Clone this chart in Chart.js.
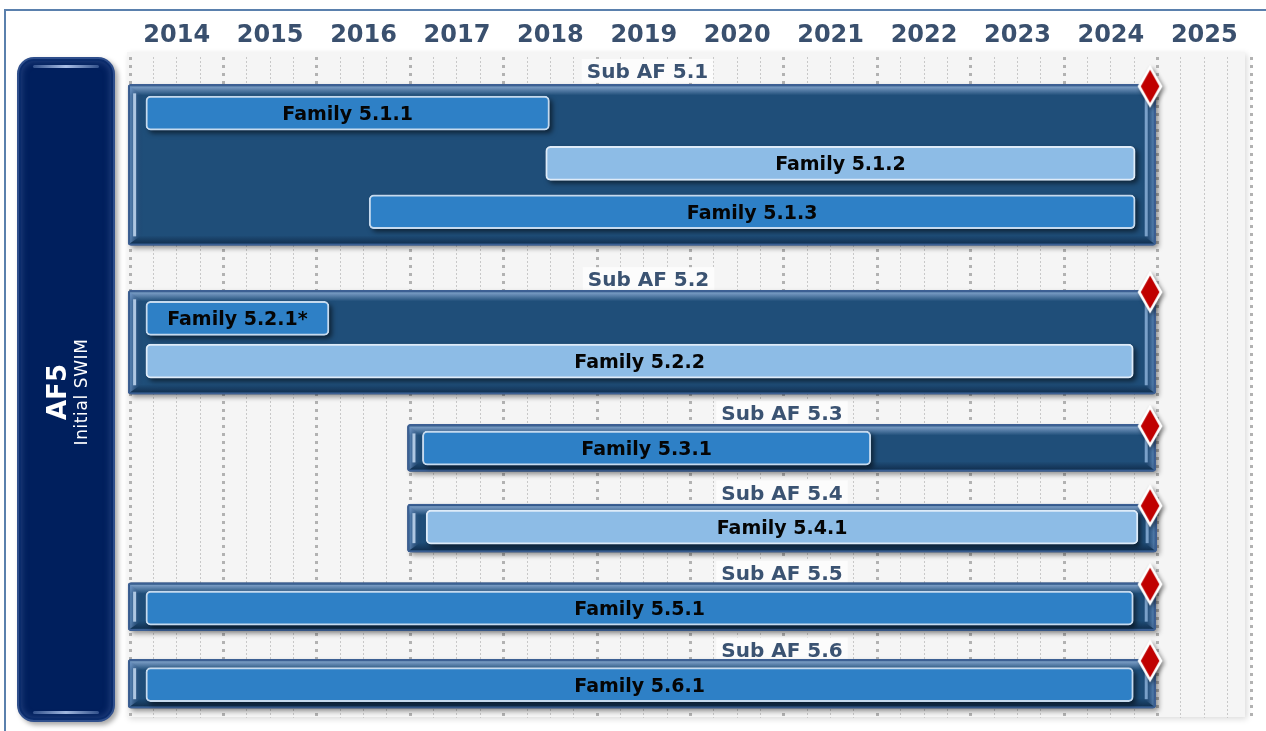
<!DOCTYPE html>
<html>
<head>
<meta charset="utf-8">
<script src="https://cdn.jsdelivr.net/npm/chart.js@4.4.1/dist/chart.umd.min.js"></script>
<style>
  html, body { margin: 0; padding: 0; background: #ffffff; overflow: hidden; }
  #wrap { position: relative; width: 1266px; height: 731px; overflow: hidden; }
  #frame { position: absolute; left: 4px; top: 9px; width: 1400px; height: 900px; border: 2px solid #5a80ad; box-sizing: border-box; }
  #chart { position: absolute; left: 0; top: 0; }
  #af5 { position: absolute; left: 17px; top: 57px; width: 98px; height: 665px; box-sizing: border-box;
         border-radius: 17px; background: #001f5d; border: 2px solid #2f4f8c;
         box-shadow: 3px 3px 5px rgba(0,0,0,0.35), inset 0 0 0 2px #0b2c6c, inset 0 0 6px 3px rgba(60,90,150,0.55); z-index: 2; }
  #af5::before { content: ""; position: absolute; left: 14px; right: 14px; top: 6px; height: 3px; border-radius: 2px;
         background: linear-gradient(to right, rgba(160,190,240,0.3), rgba(200,220,255,0.85), rgba(160,190,240,0.3)); }
  #af5::after { content: ""; position: absolute; left: 14px; right: 14px; bottom: 6px; height: 3px; border-radius: 2px;
         background: linear-gradient(to right, rgba(160,190,240,0.3), rgba(200,220,255,0.8), rgba(160,190,240,0.3)); }
  #af5txt { position: absolute; left: 49px; top: 333px; width: 240px; height: 48px; margin-left: -120px; margin-top: -24px;
         transform: rotate(-90deg); color: #ffffff; text-align: center; font-family: "DejaVu Sans", sans-serif; }
  #af5txt .t1 { font-weight: bold; font-size: 26px; line-height: 26px; }
  #af5txt .t2 { font-size: 17px; line-height: 22px; letter-spacing: 0.6px; }
</style>
</head>
<body>
<div id="wrap">
  <div id="frame"></div>
  <canvas id="chart" width="1266" height="731"></canvas>
  <div id="af5"><div id="af5txt"><div class="t1">AF5</div><div class="t2">Initial SWIM</div></div></div>
</div>
<script>
// ---------------- DATA ----------------
const years = ['2014','2015','2016','2017','2018','2019','2020','2021','2022','2023','2024','2025'];
const firstYear = 2014;
const lastYear = 2026;

const subNames = ['Sub AF 5.1','Sub AF 5.2','Sub AF 5.3','Sub AF 5.4','Sub AF 5.5','Sub AF 5.6'];
const subStart = [2013.98, 2013.98, 2016.97, 2016.97, 2013.98, 2013.98];
const subEnd   = [2024.98, 2024.98, 2024.98, 2024.99, 2024.98, 2024.98];
const milestoneYear = [2024.92, 2024.92, 2024.92, 2024.92, 2024.92, 2024.92];

const familyNames = ['Family 5.1.1','Family 5.1.2','Family 5.1.3','Family 5.2.1*','Family 5.2.2',
                     'Family 5.3.1','Family 5.4.1','Family 5.5.1','Family 5.6.1'];
const familyStart = [2014.17, 2018.45, 2016.56, 2014.17, 2014.17, 2017.13, 2017.17, 2014.17, 2014.17];
const familyEnd   = [2018.49, 2024.76, 2024.76, 2016.13, 2024.74, 2021.93, 2024.79, 2024.74, 2024.74];
const familyTone  = ['dark','light','dark','dark','light','dark','light','dark','dark'];

// ---------------- LAYOUT (lanes on the vertical axis, label anchors on the time axis) ----------------
const LANE_MAX = 665;
const subLabelLane = [14, 223.5, 358, 438, 519, 596];
const subLabelAt   = [2019.54, 2019.55, 2020.98, 2020.98, 2020.98, 2020.98];
const subLane      = [108.5, 287, 393.3, 474, 553, 630.5];
const subHeight    = [161, 104, 47, 48, 48, 49];
const familyLane   = [56.5, 107, 155.7, 263, 306, 393.5, 473, 554.5, 631.5];
const FAMILY_H = 34;

const C = {
  container: '#1f4e79', containerBorder: '#3c5f93',
  dark: '#2e80c6', darkBorder: '#c6daee',
  light: '#8dbce6', lightBorder: '#deebf8',
  year: '#3a506e', sub: '#3b5372', fam: '#050505'
};

function makeDiamond() {
  const c = document.createElement('canvas');
  c.width = 36; c.height = 56;
  const g = c.getContext('2d');
  g.shadowColor = 'rgba(0,0,0,0.45)'; g.shadowBlur = 4; g.shadowOffsetX = 2; g.shadowOffsetY = 2;
  g.beginPath(); g.moveTo(18, 6.5); g.lineTo(30.5, 28); g.lineTo(18, 49.5); g.lineTo(5.5, 28); g.closePath();
  g.fillStyle = '#ffffff'; g.fill();
  g.shadowColor = 'transparent';
  g.beginPath(); g.moveTo(18, 11.5); g.lineTo(27.3, 28); g.lineTo(18, 44.5); g.lineTo(8.7, 28); g.closePath();
  g.fillStyle = '#c00000'; g.fill();
  return c;
}

function rrect(ctx, x, y, w, h, r) {
  r = Math.min(r, w / 2, h / 2);
  ctx.beginPath();
  ctx.moveTo(x + r, y);
  ctx.lineTo(x + w - r, y); ctx.quadraticCurveTo(x + w, y, x + w, y + r);
  ctx.lineTo(x + w, y + h - r); ctx.quadraticCurveTo(x + w, y + h, x + w - r, y + h);
  ctx.lineTo(x + r, y + h); ctx.quadraticCurveTo(x, y + h, x, y + h - r);
  ctx.lineTo(x, y + r); ctx.quadraticCurveTo(x, y, x + r, y);
  ctx.closePath();
}

function barRect(el) {
  const p = el.getProps(['x', 'y', 'base', 'height'], true);
  const l = Math.min(p.x, p.base), r = Math.max(p.x, p.base);
  return { l, r, t: p.y - p.height / 2, b: p.y + p.height / 2, cy: p.y };
}

const ganttDecor = {
  id: 'ganttDecor',
  beforeDraw(chart) {
    const { ctx, chartArea: a } = chart;
    ctx.save();
    ctx.shadowColor = 'rgba(0,0,0,0.15)'; ctx.shadowBlur = 6; ctx.shadowOffsetX = 2; ctx.shadowOffsetY = 2;
    ctx.fillStyle = '#f5f5f5';
    ctx.fillRect(a.left - 3, a.top - 5, a.width - 3, a.height + 4);
    ctx.restore();
  },
  beforeDatasetsDraw(chart) {
    const { ctx, scales: { x, y } } = chart;
    ctx.save();
    ctx.font = 'bold 20px "DejaVu Sans"';
    ctx.textAlign = 'center';
    ctx.textBaseline = 'alphabetic';
    subNames.forEach((n, i) => {
      const cx = x.getPixelForValue(subLabelAt[i]);
      const cy = y.getPixelForValue(subLabelLane[i]);
      const w = ctx.measureText(n).width;
      ctx.fillStyle = '#fcfcfc';
      ctx.fillRect(cx - w / 2 - 5, cy - 12, w + 10, 24);
      ctx.fillStyle = C.sub;
      ctx.fillText(n, cx, cy + 7.3);
    });
    ctx.restore();
  },
  beforeDatasetDraw(chart, args) {
    const ds = chart.data.datasets[args.index];
    if (ds.kind !== 'container' && ds.kind !== 'family') return;
    const ctx = chart.ctx;
    ctx.save();
    args.meta.data.forEach(el => {
      const r = barRect(el);
      ctx.shadowColor = ds.kind === 'family' ? 'rgba(0,0,0,0.55)' : 'rgba(0,0,0,0.4)';
      ctx.shadowBlur = 5; ctx.shadowOffsetX = 3; ctx.shadowOffsetY = 3;
      ctx.fillStyle = ds.kind === 'family' ? '#1b3f66' : '#1a3a60';
      rrect(ctx, r.l, r.t, r.r - r.l, r.b - r.t, ds.kind === 'family' ? 5 : 3);
      ctx.fill();
    });
    ctx.restore();
  },
  afterDatasetDraw(chart, args) {
    const ds = chart.data.datasets[args.index];
    const ctx = chart.ctx;
    if (ds.kind === 'container') {
      ctx.save();
      args.meta.data.forEach(el => {
        const { l, r, t, b } = barRect(el);
        let g = ctx.createLinearGradient(0, t + 2, 0, t + 11);
        g.addColorStop(0, 'rgba(150,180,220,0.8)'); g.addColorStop(1, 'rgba(150,180,220,0)');
        ctx.fillStyle = g; ctx.fillRect(l + 2, t + 2, r - l - 4, 9);
        g = ctx.createLinearGradient(0, b - 10, 0, b - 2);
        g.addColorStop(0, 'rgba(8,25,50,0)'); g.addColorStop(1, 'rgba(8,25,50,0.55)');
        ctx.fillStyle = g; ctx.fillRect(l + 2, b - 10, r - l - 4, 8);
        // left bevel
        g = ctx.createLinearGradient(l + 2, 0, l + 15, 0);
        g.addColorStop(0, 'rgba(110,150,200,0.75)'); g.addColorStop(1, 'rgba(20,50,90,0.0)');
        ctx.fillStyle = g;
        ctx.beginPath(); ctx.moveTo(l + 2, t + 2); ctx.lineTo(l + 15, t + 11); ctx.lineTo(l + 15, b - 11); ctx.lineTo(l + 2, b - 2); ctx.closePath(); ctx.fill();
        ctx.fillStyle = 'rgba(205,225,248,0.8)';
        ctx.fillRect(l + 5, t + 9, 3, b - t - 18);
        // right bevel
        g = ctx.createLinearGradient(r - 13, 0, r - 2, 0);
        g.addColorStop(0, 'rgba(20,50,90,0.0)'); g.addColorStop(1, 'rgba(110,150,200,0.7)');
        ctx.fillStyle = g;
        ctx.beginPath(); ctx.moveTo(r - 2, t + 2); ctx.lineTo(r - 13, t + 10); ctx.lineTo(r - 13, b - 10); ctx.lineTo(r - 2, b - 2); ctx.closePath(); ctx.fill();
        ctx.fillStyle = 'rgba(160,195,235,0.7)';
        ctx.fillRect(r - 11, t + 9, 3, b - t - 18);
      });
      ctx.restore();
    }
  },
  afterDatasetsDraw(chart) {
    const { ctx, scales: { x, y } } = chart;
    ctx.save();
    ctx.font = 'bold 19px "DejaVu Sans"';
    ctx.textAlign = 'center';
    ctx.textBaseline = 'alphabetic';
    ctx.fillStyle = C.fam;
    familyNames.forEach((n, i) => {
      const cx = (x.getPixelForValue(familyStart[i]) + x.getPixelForValue(familyEnd[i])) / 2;
      const cy = y.getPixelForValue(familyLane[i]);
      ctx.fillText(n, cx, cy + 7);
    });
    ctx.restore();
  }
};

const containerSets = subNames.map((n, i) => ({
  type: 'bar', indexAxis: 'y', kind: 'container', label: n, order: 3,
  grouped: false, barThickness: subHeight[i], clip: false,
  data: [{ x: [subStart[i], subEnd[i]], y: subLane[i] }],
  backgroundColor: C.container, borderColor: C.containerBorder,
  borderWidth: 2, borderRadius: 3, borderSkipped: false
}));

const familySet = {
  type: 'bar', indexAxis: 'y', kind: 'family', label: 'Families', order: 2,
  grouped: false, barThickness: FAMILY_H, clip: false,
  data: familyNames.map((n, i) => ({ x: [familyStart[i], familyEnd[i]], y: familyLane[i] })),
  backgroundColor: familyTone.map(t => t === 'dark' ? C.dark : C.light),
  borderColor: familyTone.map(t => t === 'dark' ? C.darkBorder : C.lightBorder),
  borderWidth: 2, borderRadius: 5, borderSkipped: false
};

const milestoneSet = {
  type: 'scatter', kind: 'milestone', label: 'Milestones', order: 0, clip: false,
  data: subNames.map((n, i) => ({ x: milestoneYear[i], y: subLane[i] - subHeight[i] / 2 + 1.5 })),
  pointStyle: makeDiamond(), pointRadius: 12, showLine: false
};

new Chart(document.getElementById('chart'), {
  type: 'bar',
  data: { datasets: [milestoneSet, familySet, ...containerSets] },
  options: {
    responsive: false,
    animation: false,
    events: [],
    devicePixelRatio: 1,
    layout: { padding: { left: 130, right: 15, top: 0, bottom: 9 } },
    plugins: { legend: { display: false }, tooltip: { enabled: false } },
    scales: {
      x: {
        type: 'linear', position: 'top', min: firstYear, max: lastYear,
        offset: false,
        afterBuildTicks(scale) {
          const t = [];
          for (let v = firstYear; v <= lastYear + 1e-9; v += 0.25) t.push({ value: v });
          scale.ticks = t;
        },
        afterFit(scale) { scale.height = 57; },
        ticks: {
          autoSkip: false, maxRotation: 0, minRotation: 0, padding: 7,
          labelOffset: 46.7,
          color: C.year,
          font: { family: 'DejaVu Sans', size: 24, weight: 'bold' },
          callback(v) {
            const i = Math.round(v - firstYear);
            return (Math.abs(v - Math.round(v)) < 1e-6 && i >= 0 && i < years.length) ? years[i] : '';
          }
        },
        grid: {
          offset: false, drawTicks: false,
          color: c => (c.tick && Math.abs(c.tick.value - Math.round(c.tick.value)) < 1e-6) ? '#b2b2b2' : '#c8c8c8',
          lineWidth: c => (c.tick && Math.abs(c.tick.value - Math.round(c.tick.value)) < 1e-6) ? 3 : 1
        },
        border: {
          display: false,
          dash: c => (c.tick && Math.abs(c.tick.value - Math.round(c.tick.value)) < 1e-6) ? [3, 5] : [2, 2]
        }
      },
      y: {
        type: 'linear', display: false, reverse: true, min: 0, max: LANE_MAX,
        offset: false, grid: { offset: false, display: false }
      }
    }
  },
  plugins: [ganttDecor]
});
</script>
</body>
</html>
